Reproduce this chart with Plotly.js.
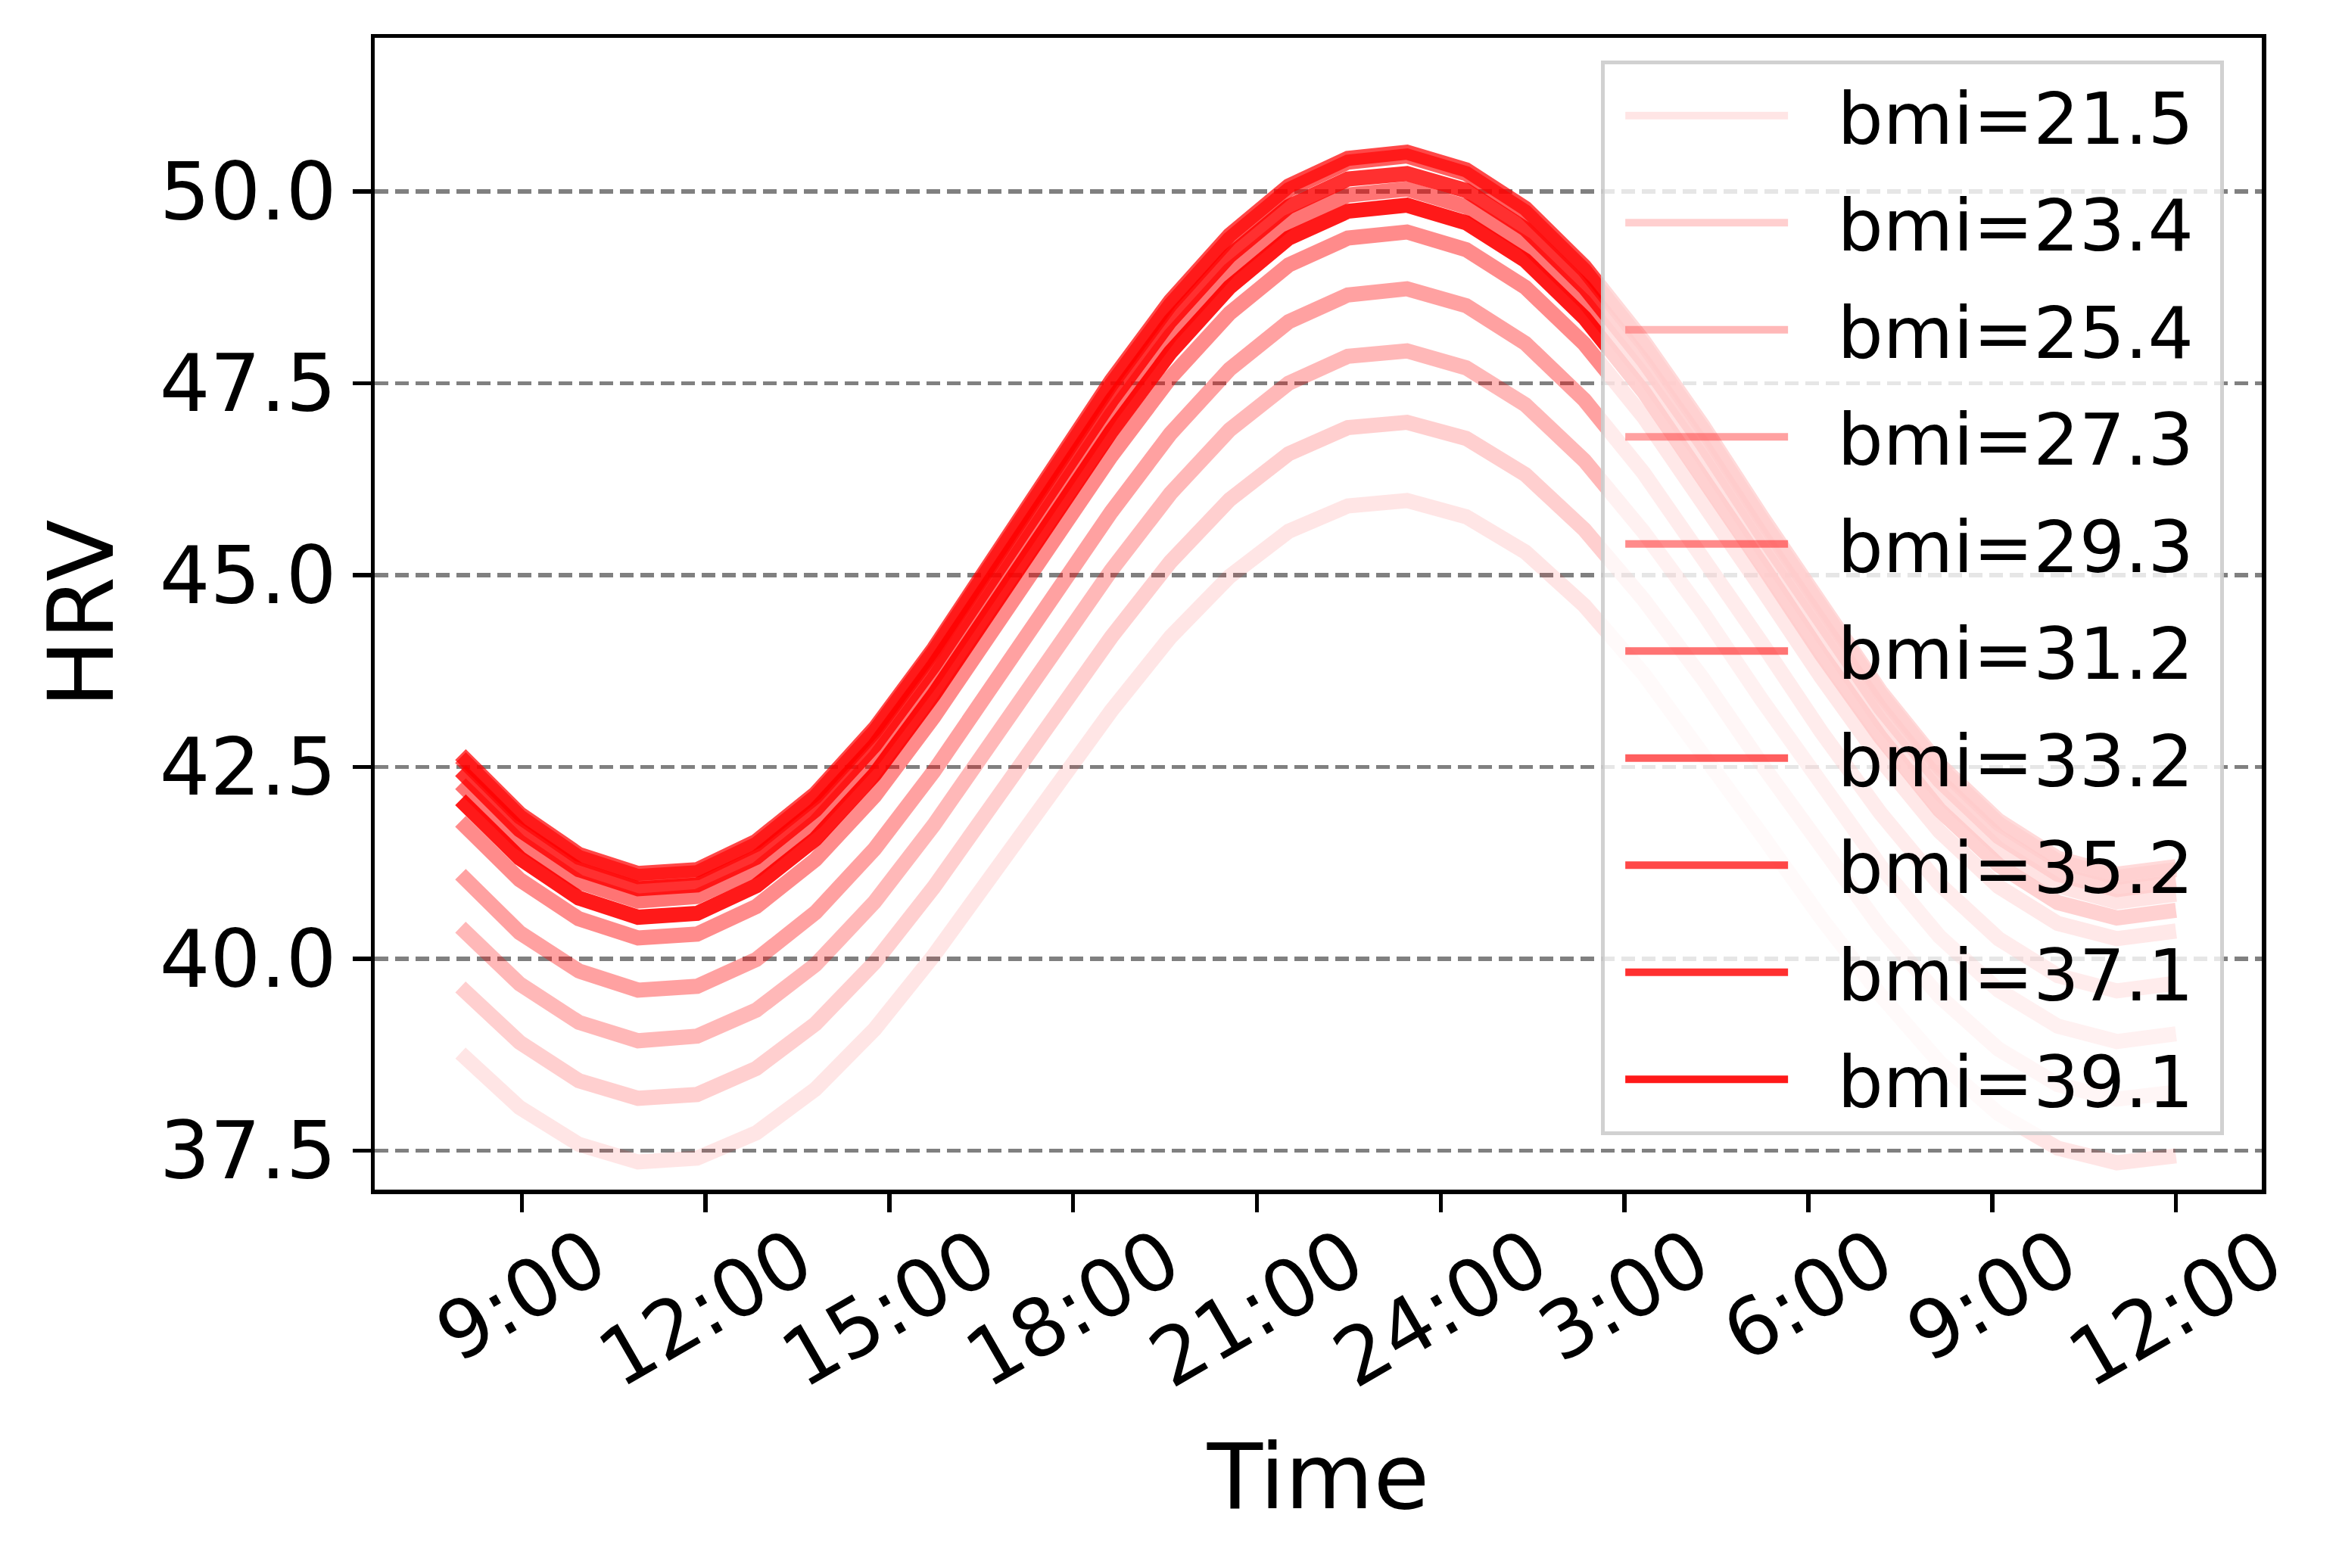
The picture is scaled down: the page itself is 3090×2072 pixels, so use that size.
<!DOCTYPE html>
<html>
<head>
<meta charset="utf-8">
<script src="https://cdn.plot.ly/plotly-3.0.1.min.js"></script>
<style>html,body{margin:0;padding:0;background:#fff;}</style>
</head>
<body>
<div id="chart" style="width:3090px;height:2072px;"></div>
<script>
// ---- data ----
const times = [8.000, 8.966, 9.931, 10.897, 11.862, 12.828, 13.793, 14.759, 15.724, 16.690,
               17.655, 18.621, 19.586, 20.552, 21.517, 22.483, 23.448, 24.414, 25.379, 26.345,
               27.310, 28.276, 29.241, 30.207, 31.172, 32.138, 33.103, 34.069, 35.034, 36.000];

const bmiValues = [21.5, 23.4, 25.4, 27.3, 29.3, 31.2, 33.2, 35.2, 37.1, 39.1];

const hrv_21_5 = [38.77, 38.06, 37.58, 37.35, 37.40, 37.73, 38.30, 39.08, 40.04, 41.09, 42.17, 43.23, 44.19, 44.98, 45.57, 45.90, 45.97, 45.76, 45.30, 44.60, 43.71, 42.70, 41.61, 40.53, 39.53, 38.65, 37.98, 37.53, 37.34, 37.43];
const hrv_23_4 = [39.63, 38.91, 38.41, 38.18, 38.23, 38.57, 39.15, 39.95, 40.93, 42.00, 43.11, 44.19, 45.17, 45.98, 46.58, 46.92, 46.99, 46.78, 46.31, 45.59, 44.68, 43.65, 42.53, 41.43, 40.41, 39.51, 38.82, 38.36, 38.17, 38.26];
const hrv_25_4 = [40.41, 39.67, 39.17, 38.93, 38.99, 39.33, 39.92, 40.74, 41.74, 42.83, 43.96, 45.06, 46.06, 46.89, 47.50, 47.85, 47.92, 47.70, 47.22, 46.49, 45.56, 44.51, 43.37, 42.25, 41.21, 40.29, 39.59, 39.12, 38.92, 39.02];
const hrv_27_3 = [41.10, 40.34, 39.84, 39.59, 39.64, 39.99, 40.60, 41.43, 42.44, 43.56, 44.70, 45.82, 46.84, 47.68, 48.30, 48.65, 48.73, 48.51, 48.02, 47.28, 46.33, 45.26, 44.11, 42.96, 41.90, 40.97, 40.26, 39.78, 39.58, 39.68];
const hrv_29_3 = [41.79, 41.03, 40.52, 40.27, 40.32, 40.68, 41.29, 42.12, 43.15, 44.27, 45.42, 46.55, 47.57, 48.41, 49.04, 49.39, 49.47, 49.24, 48.75, 48.01, 47.06, 45.98, 44.82, 43.67, 42.60, 41.66, 40.94, 40.46, 40.26, 40.36];
const hrv_31_2 = [42.28, 41.52, 41.00, 40.75, 40.81, 41.16, 41.78, 42.62, 43.65, 44.78, 45.95, 47.09, 48.12, 48.97, 49.60, 49.95, 50.03, 49.80, 49.31, 48.56, 47.60, 46.52, 45.34, 44.18, 43.10, 42.16, 41.43, 40.95, 40.74, 40.84];
const hrv_33_2 = [42.62, 41.85, 41.32, 41.07, 41.12, 41.49, 42.11, 42.96, 44.00, 45.15, 46.32, 47.48, 48.52, 49.38, 50.02, 50.38, 50.46, 50.23, 49.73, 48.97, 48.00, 46.90, 45.71, 44.54, 43.45, 42.49, 41.76, 41.27, 41.06, 41.16];
const hrv_35_2 = [42.66, 41.89, 41.36, 41.11, 41.16, 41.53, 42.15, 43.00, 44.04, 45.20, 46.37, 47.53, 48.57, 49.43, 50.07, 50.43, 50.51, 50.28, 49.78, 49.02, 48.05, 46.95, 45.76, 44.59, 43.49, 42.53, 41.80, 41.31, 41.10, 41.20];
const hrv_37_1 = [42.45, 41.68, 41.16, 40.91, 40.96, 41.32, 41.94, 42.78, 43.82, 44.96, 46.13, 47.27, 48.31, 49.16, 49.80, 50.16, 50.23, 50.01, 49.51, 48.75, 47.79, 46.70, 45.52, 44.35, 43.27, 42.32, 41.59, 41.10, 40.90, 41.00];
const hrv_39_1 = [42.07, 41.31, 40.79, 40.54, 40.59, 40.95, 41.56, 42.40, 43.44, 44.57, 45.73, 46.87, 47.90, 48.75, 49.39, 49.74, 49.82, 49.59, 49.10, 48.35, 47.39, 46.30, 45.13, 43.97, 42.89, 41.94, 41.22, 40.73, 40.53, 40.63];

const xTickVals = [9, 12, 15, 18, 21, 24, 27, 30, 33, 36];
const xTickLabels = ['9:00', '12:00', '15:00', '18:00', '21:00', '24:00', '3:00', '6:00', '9:00', '12:00'];
const yTickVals = [37.5, 40.0, 42.5, 45.0, 47.5, 50.0];
const yTickLabels = ['37.5', '40.0', '42.5', '45.0', '47.5', '50.0'];

// ---- styles ----
const series = [hrv_21_5, hrv_23_4, hrv_25_4, hrv_27_3, hrv_29_3, hrv_31_2, hrv_33_2, hrv_35_2, hrv_37_1, hrv_39_1];
const alphas = [0.1, 0.189, 0.278, 0.367, 0.456, 0.544, 0.633, 0.722, 0.811, 0.9];

const FONT = 'DejaVu Sans, Liberation Sans, sans-serif';
const NB = '\u00a0';

const traces = series.map((ys, i) => ({
  type: 'scatter',
  mode: 'lines',
  x: times,
  y: ys,
  name: NB + NB + 'bmi=' + bmiValues[i].toFixed(1) + NB,
  legendgroup: 'g' + i,
  line: { color: 'rgba(255,0,0,' + alphas[i] + ')', width: 20 },
  hoverinfo: 'skip'
}));

const annotations = xTickVals.map((v, i) => ({
  x: v, xref: 'x',
  y: -0.017, yref: 'paper',
  text: xTickLabels[i],
  showarrow: false,
  textangle: -30,
  xanchor: 'center', yanchor: 'top',
  font: { family: FONT, size: 105, color: 'black' }
}));

const layout = {
  width: 3090, height: 2072,
  margin: { l: 495, r: 102, t: 50, b: 500, pad: 0 },
  paper_bgcolor: 'white', plot_bgcolor: 'white',
  font: { family: FONT, color: 'black' },
  showlegend: true,
  legend: {
    x: 0.980, y: 0.9806, xanchor: 'right', yanchor: 'top',
    bgcolor: 'rgba(255,255,255,0.8)',
    bordercolor: 'rgba(204,204,204,0.9)', borderwidth: 5,
    font: { family: FONT, size: 95, color: 'black' },
    traceorder: 'grouped', tracegroupgap: 15,
    itemwidth: 215, indentation: 22
  },
  xaxis: {
    range: [6.6, 37.4],
    tickmode: 'array', tickvals: xTickVals, showticklabels: false,
    ticks: 'outside', ticklen: 24, tickwidth: 5.5, tickcolor: 'black',
    showline: true, linecolor: 'black', linewidth: 5.5, mirror: true,
    showgrid: false, zeroline: false,
    title: { text: 'Time', font: { family: FONT, size: 120, color: 'black' }, standoff: 310 }
  },
  yaxis: {
    range: [36.99, 52.0],
    tickmode: 'array', tickvals: yTickVals, ticktext: yTickLabels,
    ticks: 'outside', ticklen: 24, tickwidth: 5.5, tickcolor: 'black',
    tickfont: { family: FONT, size: 105, color: 'black' },
    showline: true, linecolor: 'black', linewidth: 5.5, mirror: true,
    showgrid: true, gridcolor: '#808080', gridwidth: 5.5, griddash: '18px,9px',
    zeroline: false,
    title: { text: 'HRV', font: { family: FONT, size: 120, color: 'black' }, standoff: 22 }
  },
  annotations: annotations
};

Plotly.newPlot('chart', traces, layout, { staticPlot: true, displayModeBar: false });
</script>
</body>
</html>
